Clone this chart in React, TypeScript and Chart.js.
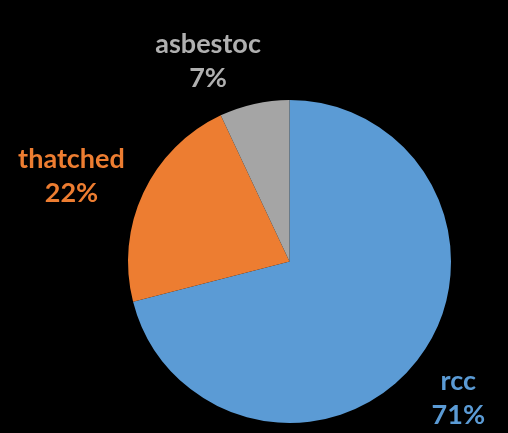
import React, { useEffect, useRef } from "react";
import { Chart, registerables } from "chart.js";

Chart.register(...registerables);

const categories = ["rcc", "thatched", "asbestoc"];
const percentages = [71, 22, 7];
const sliceColors = ["#5B9BD5", "#ED7D31", "#A5A5A5"];
const labelColors = ["#5B9BD5", "#ED7D31", "#B0B0B0"];

// label placement relative to slice mid-angle (style, not data)
const labelAngleOffsetDeg = [1.2, -3.8, -9.5];
const labelDistanceFactor = [1.345, 1.45, 1.34];

const labelPlugin = {
  id: "outsideLabels",
  afterDatasetsDraw(chart: any) {
    const ctx = chart.ctx;
    const meta = chart.getDatasetMeta(0);
    ctx.save();
    ctx.font = "bold 27px Lato";
    ctx.textAlign = "center";
    ctx.textBaseline = "middle";
    meta.data.forEach((arc: any, i: number) => {
      const { x, y, startAngle, endAngle, outerRadius } = arc.getProps(
        ["x", "y", "startAngle", "endAngle", "outerRadius"],
        true
      );
      const mid = (startAngle + endAngle) / 2 + (labelAngleOffsetDeg[i] * Math.PI) / 180;
      const d = outerRadius * labelDistanceFactor[i];
      const lx = x + Math.cos(mid) * d;
      const ly = y + Math.sin(mid) * d;
      ctx.fillStyle = labelColors[i];
      ctx.fillText(categories[i], lx, ly - 17);
      ctx.fillText(percentages[i] + "%", lx, ly + 17);
    });
    ctx.restore();
  },
};

export default function App() {
  const ref = useRef<HTMLCanvasElement | null>(null);
  useEffect(() => {
    document.body.style.margin = "0";
    document.body.style.background = "#000";
    const chart = new Chart(ref.current as HTMLCanvasElement, {
      type: "pie",
      data: {
        labels: categories,
        datasets: [
          {
            data: percentages,
            backgroundColor: sliceColors,
            borderWidth: 0,
          },
        ],
      },
      options: {
        animation: false,
        responsive: false,
        layout: { padding: { top: 100, bottom: 10, left: 128, right: 57 } },
        plugins: {
          legend: { display: false },
          tooltip: { enabled: false },
        },
      },
      plugins: [labelPlugin],
    });
    return () => chart.destroy();
  }, []);
  return (
    <div style={{ width: 508, height: 433, background: "#000", position: "fixed", left: 0, top: 0 }}>
      <canvas ref={ref} width={508} height={433} style={{ display: "block" }} />
    </div>
  );
}
